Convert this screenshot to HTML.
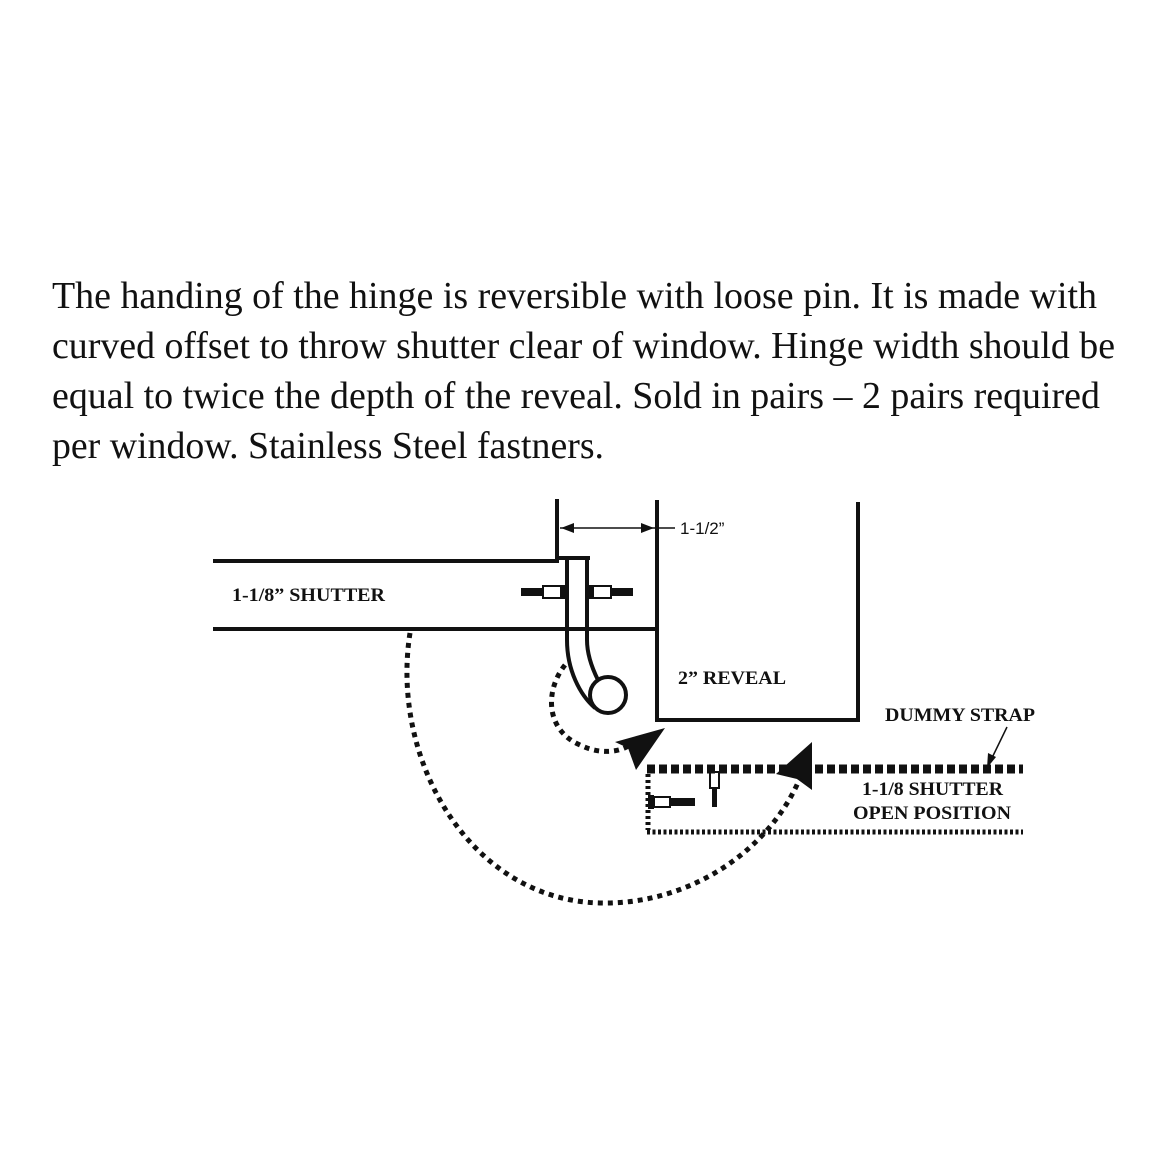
<!DOCTYPE html>
<html><head><style>html,body{margin:0;padding:0;background:#fff}svg{display:block}</style></head>
<body>
<svg width="1167" height="1167" viewBox="0 0 1167 1167" xmlns="http://www.w3.org/2000/svg">
<g font-family="Liberation Serif, serif" font-size="38" fill="#111">
<text x="52" y="308" textLength="1045" lengthAdjust="spacingAndGlyphs">The handing of the hinge is reversible with loose pin. It is made with</text>
<text x="52" y="358" textLength="1063" lengthAdjust="spacingAndGlyphs">curved offset to throw shutter clear of window. Hinge width should be</text>
<text x="52" y="408" textLength="1048" lengthAdjust="spacingAndGlyphs">equal to twice the depth of the reveal. Sold in pairs – 2 pairs required</text>
<text x="52" y="458" textLength="552" lengthAdjust="spacingAndGlyphs">per window. Stainless Steel fastners.</text>
</g>
<g stroke="#111" fill="none" stroke-width="4">
<line x1="213" y1="561" x2="559" y2="561"/>
<line x1="213" y1="629" x2="657" y2="629"/>
<line x1="557" y1="499" x2="557" y2="563"/>
<line x1="555" y1="558" x2="590" y2="558"/>
<path d="M567,558 L567,640 C567,670 580,695 595,708"/>
<path d="M587,558 L587,640 C587,655 593,670 598,680"/>
<circle cx="608" cy="695" r="18"/>
<line x1="657" y1="500" x2="657" y2="722"/>
<line x1="655" y1="720" x2="860" y2="720"/>
<line x1="858" y1="502" x2="858" y2="722"/>
<line x1="560" y1="528" x2="655" y2="528" stroke-width="1.5"/>
<line x1="655" y1="528" x2="675" y2="528" stroke-width="1.5"/>
<line x1="1007" y1="727" x2="990" y2="762" stroke-width="1.5"/>
</g>
<g fill="#111">
<polygon points="561,528 574,523 574,533"/>
<polygon points="654,528 641,523 641,533"/>
<polygon points="987,768 988,753 996,757"/>
<rect x="521" y="588" width="22" height="8"/>
<rect x="543" y="586" width="18" height="12" fill="#fff" stroke="#111" stroke-width="2"/>
<rect x="561" y="585" width="6" height="14"/>
<rect x="587" y="585" width="6" height="14"/>
<rect x="593" y="586" width="18" height="12" fill="#fff" stroke="#111" stroke-width="2"/>
<rect x="611" y="588" width="22" height="8"/>
<rect x="648" y="795" width="6" height="14"/>
<rect x="654" y="797" width="16" height="10" fill="#fff" stroke="#111" stroke-width="2"/>
<rect x="670" y="798" width="25" height="8"/>
<rect x="710" y="772" width="9" height="16" fill="#fff" stroke="#111" stroke-width="2"/>
<rect x="712" y="788" width="5" height="19"/>
<polygon points="665,728 615,742 628,748 636,770"/>
<polygon points="812,742 776,774 797,779 812,790"/>
</g>
<g fill="none" stroke="#111">
<line x1="647" y1="769" x2="1023" y2="769" stroke-width="9" stroke-dasharray="8,4"/>
<line x1="647" y1="832" x2="1023" y2="832" stroke-width="5" stroke-dasharray="3,2.5"/>
<line x1="648" y1="774" x2="648" y2="830" stroke-width="5" stroke-dasharray="3,3"/>
<path d="M410,633 C390,760 470,900 600,903 C690,905 770,850 800,778" stroke-width="5" stroke-dasharray="5,5"/>
<path d="M565,665 C545,690 545,730 580,745 C600,755 620,752 630,745" stroke-width="5" stroke-dasharray="5,5"/>
</g>
<g font-family="Liberation Serif, serif" font-weight="bold" font-size="19" fill="#111">
<text x="232" y="601" textLength="153" lengthAdjust="spacingAndGlyphs">1-1/8” SHUTTER</text>
<text x="678" y="684" textLength="108" lengthAdjust="spacingAndGlyphs">2” REVEAL</text>
<text x="885" y="721" textLength="150" lengthAdjust="spacingAndGlyphs">DUMMY STRAP</text>
<text x="862" y="795" textLength="141" lengthAdjust="spacingAndGlyphs">1-1/8 SHUTTER</text>
<text x="853" y="819" textLength="158" lengthAdjust="spacingAndGlyphs">OPEN POSITION</text>
</g>
<text x="680" y="534" font-family="Liberation Sans, sans-serif" font-size="17" fill="#111">1-1/2”</text>
</svg>
</body></html>
